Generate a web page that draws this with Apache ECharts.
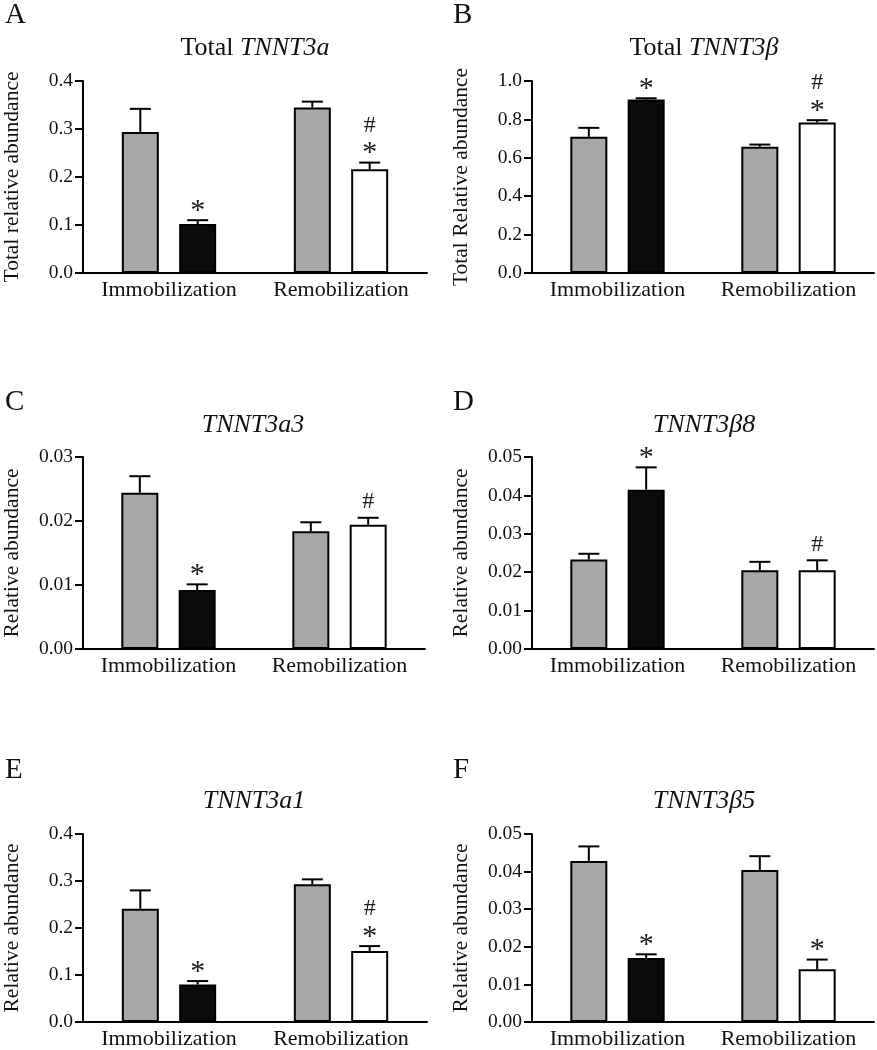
<!DOCTYPE html>
<html>
<head>
<meta charset="utf-8">
<script src="https://cdn.jsdelivr.net/npm/echarts@6/dist/echarts.min.js"></script>
<style>
  html, body { margin: 0; padding: 0; background: #fff; }
  #chart { width: 877px; height: 1050px; }
</style>
</head>
<body>
<div id="chart"></div>
<script>
// ---------------- DATA ----------------
const categories = ['Immobilization', 'Remobilization'];
const panelLetters = ['A', 'B', 'C', 'D', 'E', 'F'];
const titlePrefixes = ['Total ', 'Total ', '', '', '', ''];
const titleGenes = ['TNNT3a', 'TNNT3β', 'TNNT3a3', 'TNNT3β8', 'TNNT3a1', 'TNNT3β5'];
const yAxisNames = ['Total relative abundance', 'Total Relative abundance', 'Relative abundance',
                    'Relative abundance', 'Relative abundance', 'Relative abundance'];
const yMaxes = [0.4, 1.0, 0.03, 0.05, 0.4, 0.05];
const yIntervals = [0.1, 0.2, 0.01, 0.01, 0.1, 0.01];
const yDecimals = [1, 1, 2, 2, 1, 2];

// control (grey) bars and SEM
const controlA = [0.294, 0.345];   const controlSemA = [0.048, 0.012];
const controlB = [0.709, 0.657];   const controlSemB = [0.047, 0.012];
const controlC = [0.0244, 0.0184]; const controlSemC = [0.0026, 0.0014];
const controlD = [0.0233, 0.0205]; const controlSemD = [0.0015, 0.0022];
const controlE = [0.241, 0.293];   const controlSemE = [0.039, 0.0105];
const controlF = [0.0428, 0.0404]; const controlSemF = [0.0039, 0.0037];

// treated bars (black = immobilization, white = remobilization) and SEM
const treatedA = [0.102, 0.216];   const treatedSemA = [0.008, 0.014];
const treatedB = [0.903, 0.784];   const treatedSemB = [0.007, 0.012];
const treatedC = [0.0092, 0.0194]; const treatedSemC = [0.0009, 0.0011];
const treatedD = [0.0415, 0.0205]; const treatedSemD = [0.0058, 0.0026];
const treatedE = [0.080, 0.151];   const treatedSemE = [0.0071, 0.0105];
const treatedF = [0.0170, 0.0140]; const treatedSemF = [0.0010, 0.0026];

// significance marks above treated bars (listed bottom to top)
const marksA = [['*'], ['*', '#']];
const marksB = [['*'], ['*', '#']];
const marksC = [['*'], ['#']];
const marksD = [['*'], ['#']];
const marksE = [['*'], ['*', '#']];
const marksF = [['*'], ['*']];

const controls = [controlA, controlB, controlC, controlD, controlE, controlF];
const controlSems = [controlSemA, controlSemB, controlSemC, controlSemD, controlSemE, controlSemF];
const treateds = [treatedA, treatedB, treatedC, treatedD, treatedE, treatedF];
const treatedSems = [treatedSemA, treatedSemB, treatedSemC, treatedSemD, treatedSemE, treatedSemF];
const marks = [marksA, marksB, marksC, marksD, marksE, marksF];

// ---------------- LAYOUT / STYLE ----------------
const SERIF = '"Liberation Serif", "Times New Roman", serif';
const grids = [
  { left: 82,  top: 81,  width: 345, height: 192 },
  { left: 532, top: 81,  width: 342, height: 192 },
  { left: 80,  top: 457, width: 345, height: 192 },
  { left: 532, top: 457, width: 342, height: 192 },
  { left: 82,  top: 834, width: 345, height: 191 },
  { left: 532, top: 834, width: 342, height: 191 }
];
const titlePos = [[255, 48], [704, 48], [253, 425], [704, 425], [254, 801], [704, 801]];
const letterPos = [[5, 15], [453, 15], [5, 402], [453, 402], [5, 770], [453, 770]];
const GREY = '#a8a8a8';
const treatedColors = ['#0b0b0b', '#ffffff'];
const BAR_W = 37;
const BAR_GAP = 0.55;
const BAR_OFF = (BAR_W + BAR_W * BAR_GAP) / 2;
const CAP_HALF = 10.5;
// mark glyph styling: font size and vertical correction (em-middle vs glyph centre)
const MARK_STYLE = { '*': { size: 30, corr: 5 }, '#': { size: 24, corr: 1 } };

const option = {
  animation: false,
  backgroundColor: '#ffffff',
  grid: [], xAxis: [], yAxis: [], series: [], graphic: []
};

for (let p = 0; p < 6; p++) {
  option.grid.push(Object.assign({ containLabel: false }, grids[p]));
  option.xAxis.push({
    type: 'category', gridIndex: p, data: categories,
    axisLine: { lineStyle: { color: '#000', width: 2 } },
    axisTick: { show: false },
    axisLabel: { color: '#111', fontFamily: SERIF, fontSize: 22, margin: 6,
                 interval: 0, hideOverlap: false },
    splitLine: { show: false }
  });
  const dec = yDecimals[p];
  option.yAxis.push({
    type: 'value', gridIndex: p, min: 0, max: yMaxes[p], interval: yIntervals[p],
    name: yAxisNames[p], nameLocation: 'middle', nameGap: 60,
    nameTextStyle: { color: '#111', fontFamily: SERIF, fontSize: 21.5 },
    axisLine: { show: true, lineStyle: { color: '#000', width: 2 } },
    axisTick: { show: true, inside: false, length: 8, lineStyle: { color: '#000', width: 2 } },
    axisLabel: { color: '#111', fontFamily: SERIF, fontSize: 19.5, margin: 10,
                 formatter: v => v.toFixed(dec) },
    splitLine: { show: false }
  });
  option.series.push({
    type: 'bar', xAxisIndex: p, yAxisIndex: p, barWidth: BAR_W, barGap: (BAR_GAP * 100) + '%',
    data: controls[p],
    itemStyle: { color: GREY, borderColor: '#000', borderWidth: 2 },
    z: 2
  });
  option.series.push({
    type: 'bar', xAxisIndex: p, yAxisIndex: p, barWidth: BAR_W, barGap: (BAR_GAP * 100) + '%',
    data: treateds[p].map((v, i) => ({ value: v, itemStyle: { color: treatedColors[i] } })),
    itemStyle: { borderColor: '#000', borderWidth: 2 },
    z: 2
  });
  // error bars + significance marks
  const errData = [];
  const errMarks = [];
  for (let c = 0; c < categories.length; c++) {
    errData.push([c, 0, controls[p][c], controlSems[p][c]]); errMarks.push([]);
    errData.push([c, 1, treateds[p][c], treatedSems[p][c]]); errMarks.push(marks[p][c]);
  }
  option.series.push({
    type: 'custom', xAxisIndex: p, yAxisIndex: p, clip: false, z: 5,
    data: errData,
    encode: { x: 0, y: 2 },
    renderItem: function (params, api) {
      const c = api.value(0), g = api.value(1), v = api.value(2), s = api.value(3);
      const base = api.coord([c, v]);
      const top = api.coord([c, v + s]);
      const x = base[0] + (g === 0 ? -BAR_OFF : BAR_OFF);
      const children = [
        { type: 'line', shape: { x1: x, y1: base[1], x2: x, y2: top[1] },
          style: { stroke: '#000', lineWidth: 2 } },
        { type: 'line', shape: { x1: x - CAP_HALF, y1: top[1], x2: x + CAP_HALF, y2: top[1] },
          style: { stroke: '#000', lineWidth: 2 } }
      ];
      const m = errMarks[params.dataIndex] || [];
      m.forEach((ch, k) => {
        const ms = MARK_STYLE[ch];
        const centre = top[1] - (k === 0 ? (ch === '#' ? 17 : 14) : 38);
        children.push({
          type: 'text',
          style: {
            text: ch, x: x, y: centre + ms.corr,
            align: 'center', verticalAlign: 'middle',
            fill: '#1a1a1a', font: ms.size + 'px ' + SERIF
          }
        });
      });
      return { type: 'group', children: children };
    }
  });
  // title
  option.graphic.push({
    type: 'text', x: titlePos[p][0], y: titlePos[p][1],
    style: {
      text: (titlePrefixes[p] ? '{n|' + titlePrefixes[p] + '}' : '') + '{i|' + titleGenes[p] + '}',
      align: 'center', verticalAlign: 'middle',
      rich: {
        n: { fontFamily: SERIF, fontSize: 26, fill: '#111', color: '#111' },
        i: { fontFamily: SERIF, fontSize: 26, fontStyle: 'italic', fill: '#111', color: '#111' }
      }
    }
  });
  // panel letter
  option.graphic.push({
    type: 'text', x: letterPos[p][0], y: letterPos[p][1],
    style: { text: panelLetters[p], align: 'left', verticalAlign: 'middle',
             fill: '#111', font: '29px ' + SERIF }
  });
}

const chart = echarts.init(document.getElementById('chart'), null, { renderer: 'canvas' });
chart.setOption(option);
</script>
</body>
</html>
